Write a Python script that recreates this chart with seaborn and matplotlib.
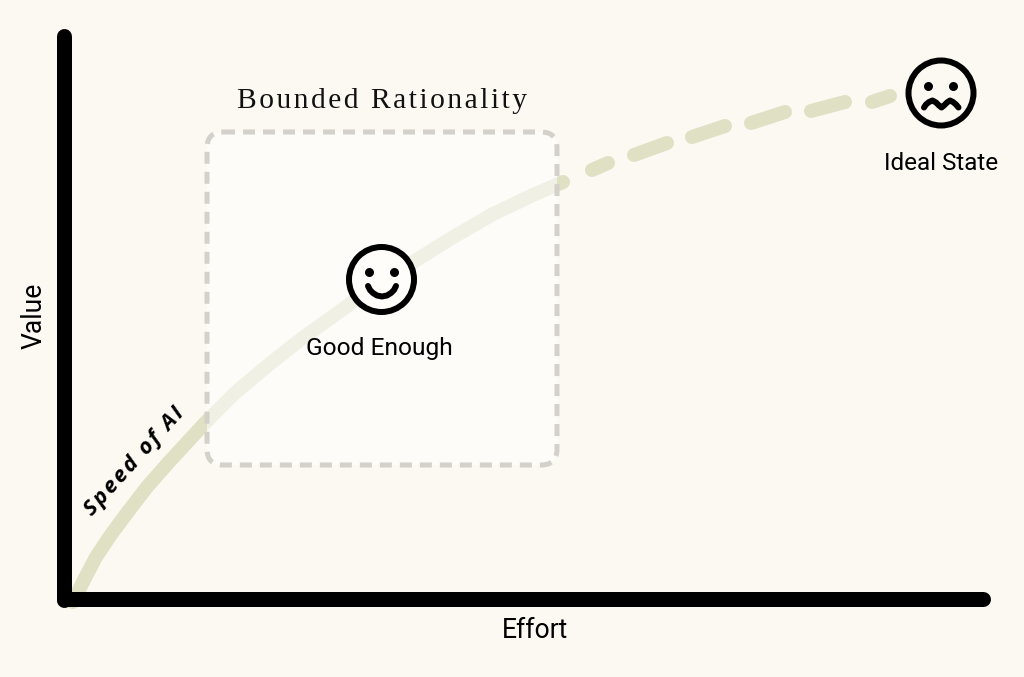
import matplotlib
matplotlib.use('Agg')

import numpy as np
import pandas as pd
import matplotlib.pyplot as plt
from matplotlib.patches import FancyBboxPatch, Circle
import seaborn as sns

# ==============================
# DATA (in pixels)
# ==============================
solid_x = [73, 78, 86, 96, 110, 127, 147, 169, 205, 235, 267, 300, 350, 410, 450, 493, 533, 563]
solid_y = [602, 592, 576, 557, 536, 513, 487, 462, 423, 393, 366, 340, 304, 264, 239, 214, 195, 182]

# every dash of the dashed part: start and end
dash_x0 = [592, 634, 692, 751, 811, 872]
dash_y0 = [170, 155, 137, 123, 111, 102]
dash_x1 = [608, 667, 725, 785, 845, 890]
dash_y1 = [163, 143, 126, 112, 102, 96]

yaxis_x = [64, 64]
yaxis_y = [36, 600]
xaxis_x = [64, 983]
xaxis_y = [599, 599]

smile_x = [368, 370, 373, 377, 382, 387, 391, 394, 396]
smile_y = [286, 290, 293, 295.5, 296.5, 295.5, 293, 290, 286]

wave_x = [924, 926, 929, 932.5, 936, 939, 941.5, 944, 947, 950, 953, 956, 958.5]
wave_y = [107.5, 104.5, 102, 100.5, 102.5, 105.5, 107.5, 105.5, 102.5, 100.5, 102, 104.5, 107.5]

face_x = [381.5, 941]
face_y = [279.5, 93]
eye_x = [369, 394, 928, 953]
eye_y = [272, 272, 86, 86]

BG = "#FCF9F3"
CURVE = "#E0E0C4"
HAIR = "\u200a"

# ==============================
# SETUP
# ==============================
sns.set_theme(style="white")
plt.rcParams['font.family'] = ['Roboto', 'DejaVu Sans']

fig = plt.figure(figsize=(10.24, 6.77), dpi=100, facecolor=BG)
ax = fig.add_axes([0, 0, 1, 1])
ax.set_facecolor(BG)
ax.set_xlim(0, 1024)
ax.set_ylim(677, 0)
ax.axis("off")

def px(v):
    return v * 72 / 100

def draw_line(xs, ys, color, width, z):
    df = pd.DataFrame({"x": xs, "y": ys})
    line = sns.lineplot(data=df, x="x", y="y", sort=False, estimator=None, color=color,
                        linewidth=px(width), ax=ax, zorder=z, legend=False,
                        solid_capstyle="round", solid_joinstyle="round")
    return line

# ==============================
# CURVE
# ==============================
draw_line(solid_x, solid_y, CURVE, 14, 1)
for x0, y0, x1, y1 in zip(dash_x0, dash_y0, dash_x1, dash_y1):
    draw_line([x0, x1], [y0, y1], CURVE, 14, 1)

# ==============================
# BOX
# ==============================
ax.add_patch(FancyBboxPatch((207, 132), 350, 333, boxstyle="round,pad=0,rounding_size=16",
                            facecolor="white", alpha=0.55, edgecolor="none", zorder=2))
ax.add_patch(FancyBboxPatch((207, 132), 350, 333, boxstyle="round,pad=0,rounding_size=16",
                            facecolor="none", edgecolor="#D3D1C9", linewidth=px(5),
                            linestyle=(0, (2.4, 1.6)), zorder=3))

# ==============================
# AXES LINES
# ==============================
draw_line(yaxis_x, yaxis_y, "black", 15, 5)
draw_line(xaxis_x, xaxis_y, "black", 15, 5)

# ==============================
# FACES
# ==============================
for fx, fy in zip(face_x, face_y):
    ax.add_patch(Circle((fx, fy), 32.5, facecolor=BG if fx > 500 else "#FEFDFA",
                        edgecolor="black", linewidth=px(6), zorder=6))
sns.scatterplot(x=eye_x, y=eye_y, color="black", s=px(9) ** 2, linewidth=0, ax=ax,
                zorder=7, legend=False)
draw_line(smile_x, smile_y, "black", 6, 7)
draw_line(wave_x, wave_y, "black", 6, 7)

# ==============================
# TEXT
# ==============================
ax.text(379, 349, "Good Enough", fontsize=px(24.5), ha="center", va="center", color="black", zorder=8)
ax.text(941, 163, "Ideal State", fontsize=px(24.2), ha="center", va="center", color="black", zorder=8)
ax.text(535, 630, "Effort", fontsize=px(26.5), ha="center", va="center", color="black", zorder=8)
ax.text(34, 316, "Value", fontsize=px(26.5), rotation=90, ha="center", va="center", color="black", zorder=8)
ax.text(382, 101, HAIR.join("Bounded Rationality"), fontsize=px(29.5), family=["Liberation Serif", "DejaVu Sans"],
        ha="center", va="center", color="#111111", zorder=8)
ax.text(135, 462, HAIR.join("Speed of AI"), fontsize=px(22), family=["Open Sans", "DejaVu Sans"], style="italic",
        weight="bold", rotation=48, rotation_mode="anchor", ha="center", va="center",
        color="black", zorder=8)

fig.savefig("out.png", dpi=100, facecolor=BG)
plt.close(fig)
